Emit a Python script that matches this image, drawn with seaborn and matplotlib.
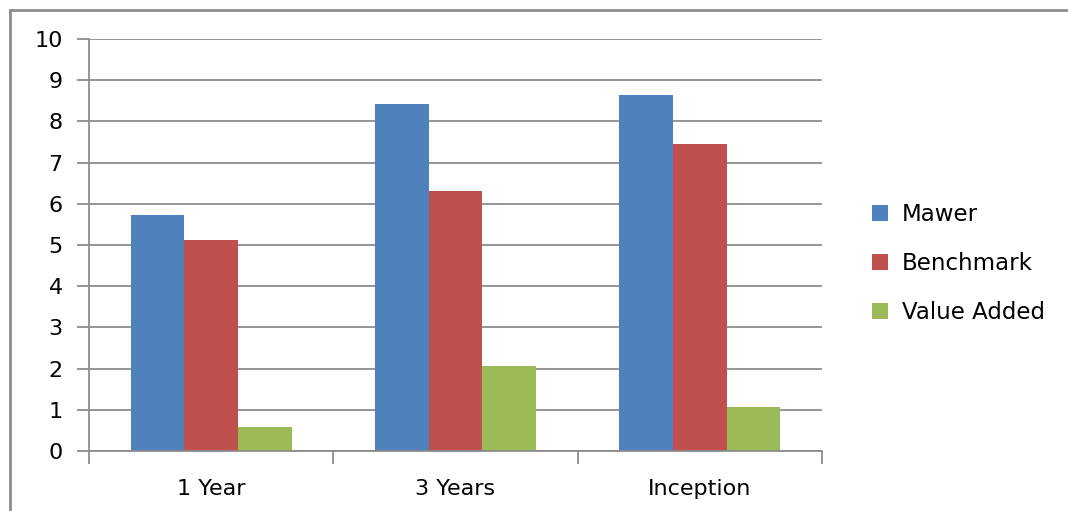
import matplotlib.pyplot as plt
import seaborn as sns
import pandas as pd
from matplotlib.lines import Line2D

periods = ["1 Year", "3 Years", "Inception"]
series = ["Mawer", "Benchmark", "Value Added"]
mawer = [5.72, 8.42, 8.63]
benchmark = [5.12, 6.32, 7.46]
value_added = [0.58, 2.07, 1.08]
colors = ["#4F81BD", "#C0504D", "#9BBB59"]

df = pd.DataFrame({
    "period": periods * 3,
    "series": [s for s in series for _ in periods],
    "value": mawer + benchmark + value_added,
})

sns.set_style("white")
plt.rcParams['font.family'] = ['DejaVu Sans']
plt.rcParams['text.color'] = 'black'

fig = plt.figure(figsize=(10.68, 5.11), dpi=100)
ax = fig.add_axes([89/1068, 1-451/511, (822-89)/1068, (451-39)/511])

sns.barplot(data=df, x="period", y="value", hue="series", order=periods,
            hue_order=series, palette=colors, width=0.66, linewidth=0,
            saturation=1, ax=ax)

ax.set_ylim(0, 10)
ax.set_xlim(-0.5, 2.5)
ax.set_yticks(range(0, 11))
ax.yaxis.grid(True, color="#8c8c8c", linewidth=1.3)
ax.set_axisbelow(True)
ax.set_xlabel("")
ax.set_ylabel("")

for s in ["top", "right"]:
    ax.spines[s].set_visible(False)
for s in ["left", "bottom"]:
    ax.spines[s].set_color("#8c8c8c")
    ax.spines[s].set_linewidth(1.3)

fs = 16
ax.tick_params(axis="y", length=9, width=1.3, color="#8c8c8c", pad=10,
               labelsize=fs, labelcolor="black", left=True)
ax.tick_params(axis="x", which="major", length=0, pad=20, labelsize=fs,
               labelcolor="black")
ax.set_xticks([-0.5, 0.5, 1.5, 2.5], minor=True)
ax.tick_params(axis="x", which="minor", length=9, width=1.3, color="#8c8c8c",
               bottom=True)

leg = ax.legend(loc="center left", bbox_to_anchor=(1.04, 0.455), frameon=False,
                fontsize=16.5, handlelength=0.7, handleheight=0.7,
                labelspacing=1.12, handletextpad=0.6)
for t in leg.get_texts():
    t.set_color("black")

# outer chart border (left and top only visible)
fig.add_artist(Line2D([10/1068, 10/1068], [0, 1-10/511], color="#8c8c8c",
                      linewidth=2, transform=fig.transFigure))
fig.add_artist(Line2D([10/1068, 1], [1-10/511, 1-10/511], color="#8c8c8c",
                      linewidth=2, transform=fig.transFigure))

fig.savefig("out.png", dpi=100, facecolor="white")
